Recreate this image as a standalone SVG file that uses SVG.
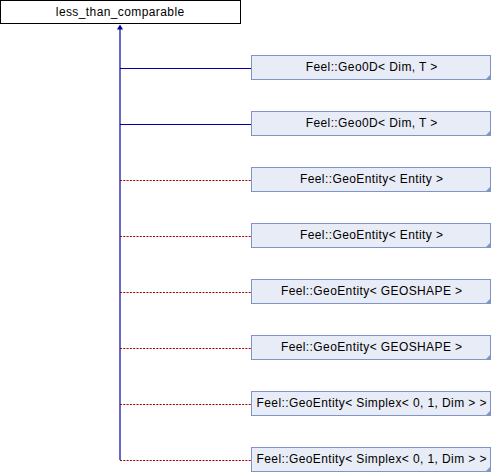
<svg xmlns="http://www.w3.org/2000/svg" width="492" height="472" viewBox="0 0 492 472">
<style>
.bg{fill:#ffffff}
.root{fill:#ffffff;stroke:#000000;stroke-width:1}
.box{fill:#e8ecf6;stroke:#7f95c8;stroke-width:1}
.corner{fill:#7f95c8}
.t{font-family:"Liberation Sans",Arial,sans-serif;font-size:12px;letter-spacing:0.4px;fill:#000000;text-anchor:middle}
.pub{stroke:#0000a0;stroke-width:1.2;fill:none}
.tmpl{stroke:#a00000;stroke-width:1.2;fill:none;stroke-dasharray:2 1.3}
</style>
<defs>
<g id="c"><path class="corner" d="M0 0 L-6 6 L0 6 Z"/></g>
</defs>
<rect class="bg" x="0" y="0" width="492" height="472"/>
<g id="connectors">
<line class="pub" x1="120" y1="28" x2="120" y2="460"/>
<path fill="#0000a0" d="M120 24.5 L123 29.5 L117 29.5 Z"/>
<line class="pub" x1="120" y1="68.5" x2="251" y2="68.5"/>
<line class="pub" x1="120" y1="124.5" x2="251" y2="124.5"/>
<line class="tmpl" x1="120" y1="180.5" x2="251" y2="180.5"/>
<line class="tmpl" x1="120" y1="236.5" x2="251" y2="236.5"/>
<line class="tmpl" x1="120" y1="292.5" x2="251" y2="292.5"/>
<line class="tmpl" x1="120" y1="348.5" x2="251" y2="348.5"/>
<line class="tmpl" x1="120" y1="404.5" x2="251" y2="404.5"/>
<line class="tmpl" x1="120" y1="460.5" x2="251" y2="460.5"/>
</g>
<g id="node-root">
<rect class="root" x="0.5" y="0.5" width="240" height="23"/>
<text class="t" x="120.2" y="15.5">less_than_comparable</text>
</g>
<g id="node-1">
<rect class="box" x="251.5" y="55.5" width="239" height="24"/>
<use href="#c" x="491" y="74"/>
<text class="t" x="371.7" y="71">Feel::Geo0D&lt; Dim, T &gt;</text>
</g>
<g id="node-2">
<rect class="box" x="251.5" y="111.5" width="239" height="24"/>
<use href="#c" x="491" y="130"/>
<text class="t" x="371.7" y="127">Feel::Geo0D&lt; Dim, T &gt;</text>
</g>
<g id="node-3">
<rect class="box" x="251.5" y="167.5" width="239" height="24"/>
<use href="#c" x="491" y="186"/>
<text class="t" x="371.7" y="183">Feel::GeoEntity&lt; Entity &gt;</text>
</g>
<g id="node-4">
<rect class="box" x="251.5" y="223.5" width="239" height="24"/>
<use href="#c" x="491" y="242"/>
<text class="t" x="371.7" y="239">Feel::GeoEntity&lt; Entity &gt;</text>
</g>
<g id="node-5">
<rect class="box" x="251.5" y="279.5" width="239" height="24"/>
<use href="#c" x="491" y="298"/>
<text class="t" x="371.7" y="295">Feel::GeoEntity&lt; GEOSHAPE &gt;</text>
</g>
<g id="node-6">
<rect class="box" x="251.5" y="335.5" width="239" height="24"/>
<use href="#c" x="491" y="354"/>
<text class="t" x="371.7" y="351">Feel::GeoEntity&lt; GEOSHAPE &gt;</text>
</g>
<g id="node-7">
<rect class="box" x="251.5" y="391.5" width="239" height="24"/>
<use href="#c" x="491" y="410"/>
<text class="t" x="371.7" y="407">Feel::GeoEntity&lt; Simplex&lt; 0, 1, Dim &gt; &gt;</text>
</g>
<g id="node-8">
<rect class="box" x="251.5" y="447.5" width="239" height="24"/>
<use href="#c" x="491" y="466"/>
<text class="t" x="371.7" y="463">Feel::GeoEntity&lt; Simplex&lt; 0, 1, Dim &gt; &gt;</text>
</g>
</svg>
